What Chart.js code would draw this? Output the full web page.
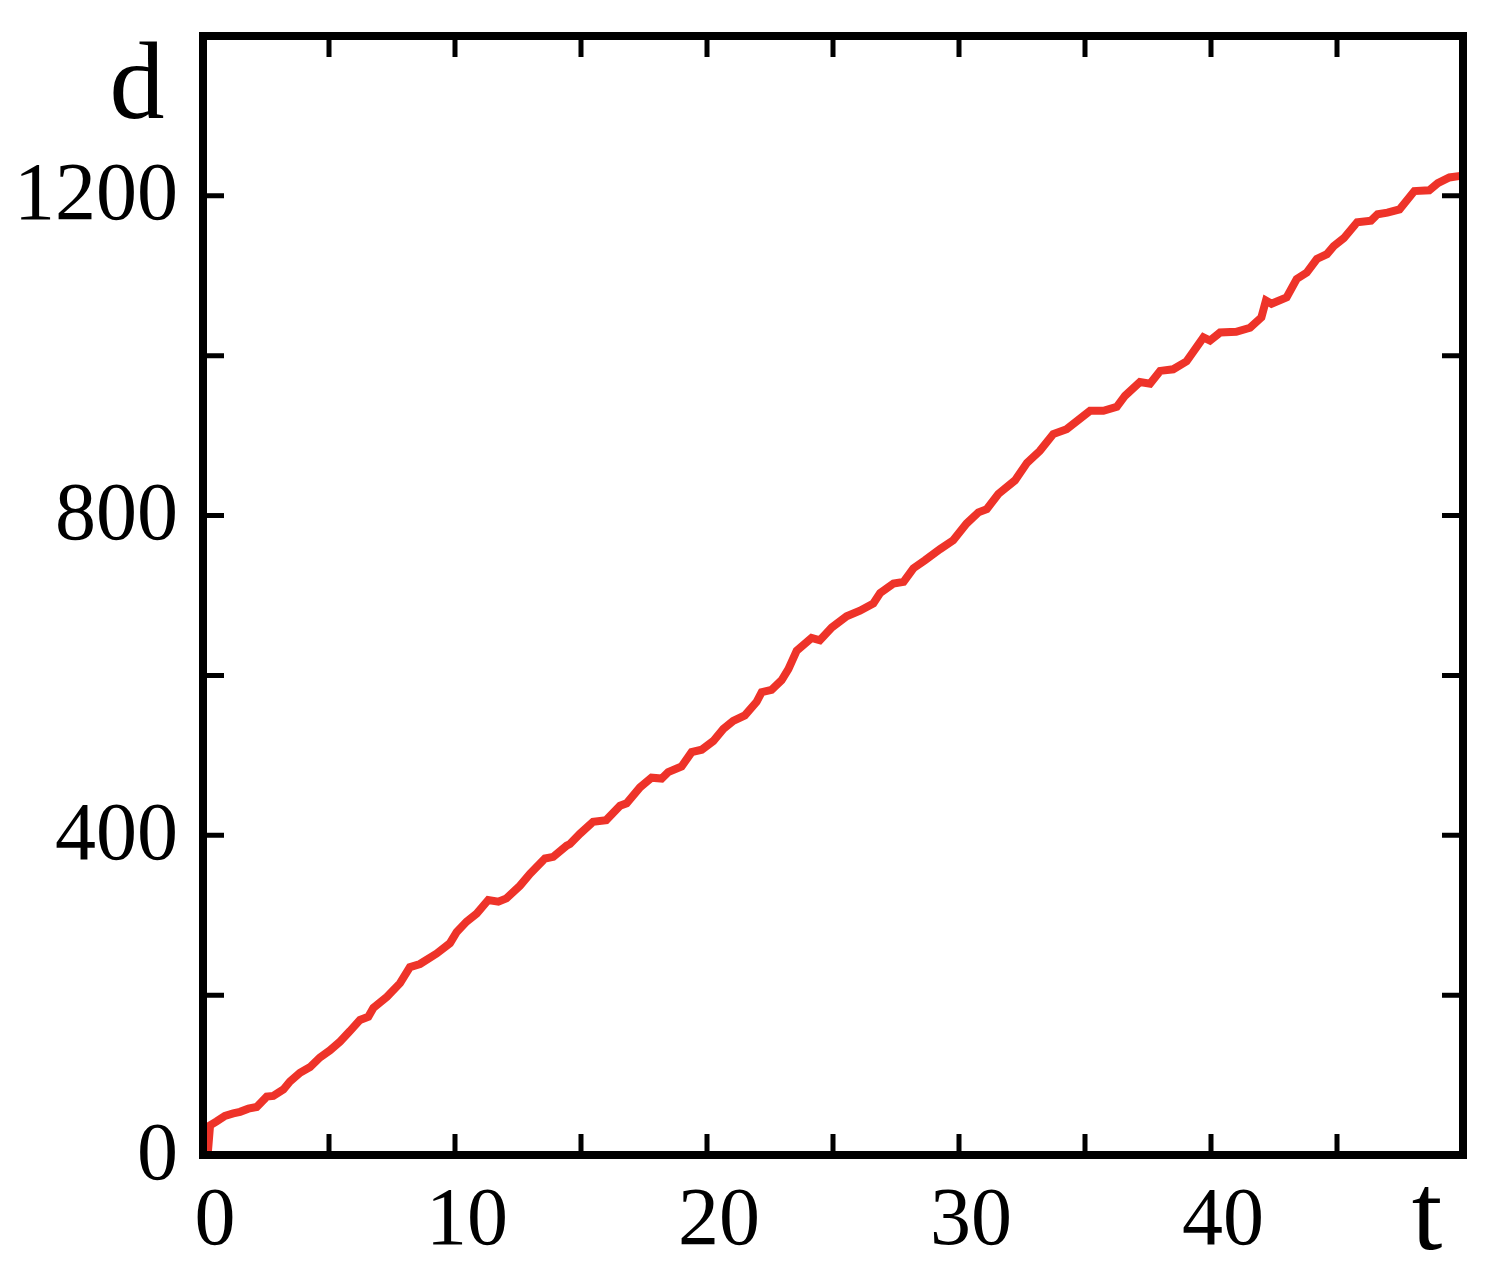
<!DOCTYPE html>
<html>
<head>
<meta charset="utf-8">
<script src="https://cdn.jsdelivr.net/npm/chart.js@4/dist/chart.umd.min.js"></script>
<style>
  html, body { margin: 0; padding: 0; background: #ffffff; }
  #wrap { width: 1493px; height: 1270px; position: relative; }
</style>
</head>
<body>
<div id="wrap"><canvas id="c" width="1493" height="1270"></canvas></div>
<script>
// ---- data ----
const tValues = [0, 0.2, 0.28, 0.54, 0.87, 1.2, 1.47, 1.8, 2.13, 2.53, 2.79, 3.19, 3.45, 3.85, 4.25, 4.64,
  5.04, 5.44, 5.83, 6.23, 6.56, 6.76, 7.3, 7.82, 8.21, 8.61, 9.27, 9.8, 10.07, 10.46, 10.86, 11.32,
  11.72, 12.04, 12.58, 12.98, 13.57, 13.9, 14.43, 14.56, 14.96, 15.48, 16.0, 16.55, 16.81, 17.34,
  17.8, 18.2, 18.46, 18.99, 19.39, 19.79, 20.25, 20.65, 21.04, 21.5, 21.97, 22.17, 22.56, 22.96,
  23.23, 23.56, 24.15, 24.48, 24.95, 25.54, 26.07, 26.6, 26.87, 27.4, 27.8, 28.19, 28.65, 29.25,
  29.77, 30.3, 30.77, 31.1, 31.56, 32.22, 32.7, 33.21, 33.74, 34.27, 35.2, 35.73, 36.26, 36.59,
  37.18, 37.58, 37.98, 38.5, 39.03, 39.7, 39.96, 40.36, 41.0, 41.55, 42.0, 42.18, 42.4, 43.0,
  43.4, 43.8, 44.2, 44.6, 44.87, 45.27, 45.8, 46.35, 46.61, 47.0, 47.48, 48.07, 48.66, 49.0,
  49.46, 49.9];
const dValues = [0, 6, 37, 42, 49, 52, 54, 58, 60, 73, 74, 82, 92, 103, 110, 122,
  131, 142, 155, 169, 173, 184, 198, 215, 235, 239, 252, 265, 279, 292, 302, 319,
  317, 321, 337, 352, 371, 373, 387, 389, 402, 417, 419, 437, 440, 460,
  472, 471, 479, 486, 504, 507, 518, 533, 543, 550, 567, 579, 582, 594,
  608, 631, 647, 644, 660, 674, 681, 690, 703, 715, 717, 734, 744, 758,
  769, 790, 804, 808, 827, 844, 866, 881, 902, 908, 931, 931, 936, 950,
  967, 965, 981, 983, 993, 1023, 1019, 1029, 1030, 1035, 1048, 1069, 1065, 1073,
  1096, 1104, 1121, 1127, 1137, 1147, 1167, 1169, 1177, 1179, 1183, 1206, 1207, 1216,
  1223, 1225];
const xTickLabels = ['0', '10', '20', '30', '40'];
const yTickLabels = ['0', '400', '800', '1200'];
const xTitle = 't';
const yTitle = 'd';

const FONT = '"Liberation Serif", "Times New Roman", serif';

const points = tValues.map((t, i) => ({ x: t, y: dValues[i] }));

const framePlugin = {
  id: 'frame',
  afterDatasetsDraw(chart) {
    const ctx = chart.ctx;
    const a = chart.chartArea;
    const xs = chart.scales.x, ys = chart.scales.y;
    const len = 21;
    ctx.save();
    ctx.strokeStyle = '#000';
    ctx.lineWidth = 5;
    ctx.lineCap = 'butt';
    ctx.beginPath();
    xs.ticks.forEach(tk => {
      const px = xs.getPixelForValue(tk.value);
      if (px <= a.left + 2 || px >= a.right - 2) return;
      ctx.moveTo(px, a.bottom); ctx.lineTo(px, a.bottom - len);
      ctx.moveTo(px, a.top); ctx.lineTo(px, a.top + len);
    });
    ys.ticks.forEach(tk => {
      const py = ys.getPixelForValue(tk.value);
      if (py <= a.top + 2 || py >= a.bottom - 2) return;
      ctx.moveTo(a.left, py); ctx.lineTo(a.left + len, py);
      ctx.moveTo(a.right, py); ctx.lineTo(a.right - len, py);
    });
    ctx.stroke();
    ctx.lineWidth = 8;
    ctx.lineJoin = 'miter';
    ctx.strokeRect(a.left, a.top, a.right - a.left, a.bottom - a.top);
    // axis titles
    ctx.fillStyle = '#000';
    ctx.font = '110px ' + FONT;
    ctx.textAlign = 'center';
    ctx.textBaseline = 'alphabetic';
    ctx.fillText(yTitle, 137, 118);
    ctx.fillText(xTitle, 1427, 1249);
    ctx.restore();
  }
};

new Chart(document.getElementById('c'), {
  type: 'line',
  data: {
    datasets: [{
      data: points,
      borderColor: '#ee3329',
      borderWidth: 8,
      pointRadius: 0,
      tension: 0,
      fill: false
    }]
  },
  options: {
    responsive: false,
    animation: false,
    events: [],
    layout: { padding: { top: 36, right: 30, left: 0, bottom: 0 } },
    plugins: { legend: { display: false }, tooltip: { enabled: false }, title: { display: false } },
    scales: {
      x: {
        type: 'linear',
        min: 0, max: 50,
        border: { display: false },
        grid: { display: false, drawTicks: false },
        ticks: {
          stepSize: 5,
          autoSkip: false,
          maxRotation: 0,
          padding: 18,
          labelOffset: 12,
          color: '#000',
          font: { family: FONT, size: 82 },
          callback: (v) => {
            const s = String(v);
            return xTickLabels.includes(s) ? s : '';
          }
        },
        afterFit: (s) => { s.height = 115; s.paddingLeft = 0; s.paddingRight = 0; }
      },
      y: {
        type: 'linear',
        min: 0, max: 1400,
        border: { display: false },
        grid: { display: false, drawTicks: false },
        ticks: {
          stepSize: 200,
          autoSkip: false,
          padding: 25,
          labelOffset: 2,
          color: '#000',
          font: { family: FONT, size: 82 },
          callback: (v) => {
            const s = String(v);
            return yTickLabels.includes(s) ? s : '';
          }
        },
        afterFit: (s) => { s.width = 203; s.paddingTop = 0; s.paddingBottom = 0; }
      }
    }
  },
  plugins: [framePlugin]
});
</script>
</body>
</html>
